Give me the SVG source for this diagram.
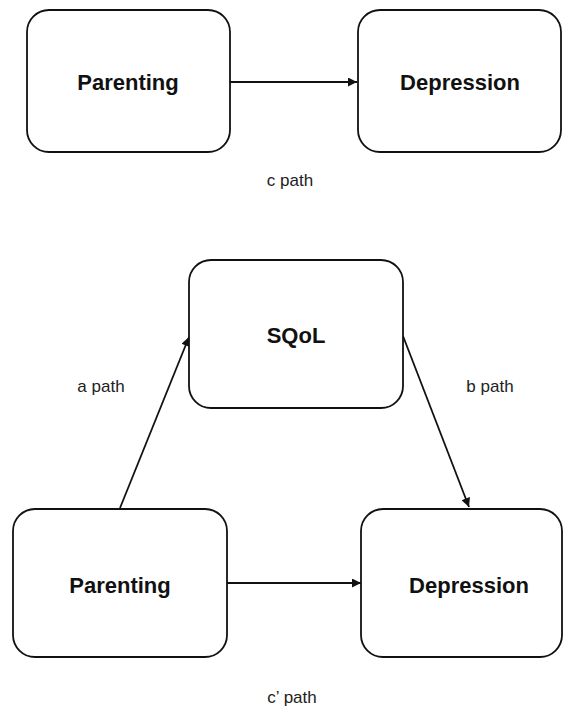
<svg xmlns="http://www.w3.org/2000/svg" width="564" height="708" viewBox="0 0 564 708">
<style>
.box{fill:#fff;stroke:#111;stroke-width:1.8}
.lbl{font-family:"Liberation Sans",Arial,sans-serif;font-weight:bold;font-size:22px;fill:#111;text-anchor:middle}
.sm{font-family:"Liberation Sans",Arial,sans-serif;font-size:17px;fill:#222;text-anchor:middle}
.edge{stroke:#111;stroke-width:1.8;fill:none;marker-end:url(#ah)}
</style>
<defs>
<marker id="ah" viewBox="0 0 10 10" refX="10" refY="5" markerWidth="11" markerHeight="9" markerUnits="userSpaceOnUse" orient="auto">
<path d="M0,0 L10,5 L0,10 z" fill="#111"/>
</marker>
</defs>
<rect width="564" height="708" fill="#fff"/>
<g id="connectors">
<line class="edge" x1="230" y1="82" x2="357" y2="82"/>
<line class="edge" x1="120" y1="508" x2="189" y2="337"/>
<line class="edge" x1="403" y1="336" x2="469" y2="507"/>
<line class="edge" x1="227" y1="583" x2="361" y2="583"/>
</g>
<g id="parenting1">
<rect class="box" x="27" y="10" width="203" height="142" rx="22"/>
<text class="lbl" x="128" y="90">Parenting</text>
</g>
<g id="depression1">
<rect class="box" x="358" y="10" width="203" height="142" rx="22"/>
<text class="lbl" x="460" y="90">Depression</text>
</g>
<g id="sqol">
<rect class="box" x="189" y="260" width="214" height="148" rx="22"/>
<text class="lbl" x="296" y="343">SQoL</text>
</g>
<g id="parenting2">
<rect class="box" x="13" y="509" width="214" height="148" rx="22"/>
<text class="lbl" x="120" y="593">Parenting</text>
</g>
<g id="depression2">
<rect class="box" x="361" y="509" width="201" height="148" rx="22"/>
<text class="lbl" x="469" y="593">Depression</text>
</g>
<g id="labels">
<text class="sm" x="290" y="186">c path</text>
<text class="sm" x="101" y="392">a path</text>
<text class="sm" x="490" y="392">b path</text>
<text class="sm" x="292" y="703">c’ path</text>
</g>
</svg>
